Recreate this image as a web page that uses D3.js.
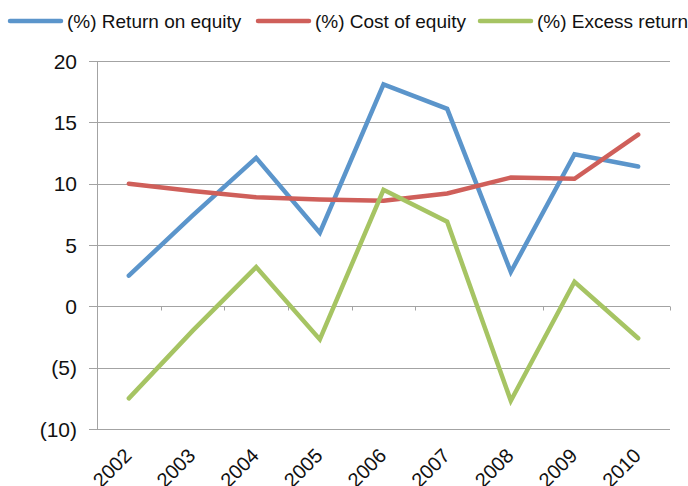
<!DOCTYPE html>
<html>
<head>
<meta charset="utf-8">
<script src="https://cdn.jsdelivr.net/npm/d3@7"></script>
<style>
  body { margin: 0; background: #fff; }
  text { font-family: "Liberation Sans", Arial, sans-serif; fill: #111; }
</style>
</head>
<body>
<div id="chart"></div>
<script>
// data
const years = ["2002", "2003", "2004", "2005", "2006", "2007", "2008", "2009", "2010"];
const returnOnEquity = [2.5, 7.4, 12.1, 6.0, 18.1, 16.1, 2.8, 12.4, 11.4];
const costOfEquity = [10.0, 9.4, 8.9, 8.7, 8.6, 9.2, 10.5, 10.4, 14.0];
const excessReturn = [-7.5, -2.0, 3.2, -2.7, 9.5, 6.9, -7.7, 2.0, -2.6];
const yTicks = [20, 15, 10, 5, 0, -5, -10];

const series = [
    {name: "(%) Return on equity", values: returnOnEquity, color: "#5b95cb"},
    {name: "(%) Cost of equity", values: costOfEquity, color: "#cf5f5a"},
    {name: "(%) Excess return", values: excessReturn, color: "#a6c463"}
];

const width = 688, height = 486;
const margin = {t: 61, l: 97, r: 18, b: 57};

const svg = d3.select("#chart").append("svg")
    .attr("width", width)
    .attr("height", height);

const x = d3.scaleBand()
    .domain(years)
    .range([margin.l, width - margin.r]);

const y = d3.scaleLinear()
    .domain([-10, 20])
    .range([height - margin.b, margin.t]);

const fmt = (v) => v < 0 ? `(${Math.abs(v)})` : `${v}`;

// gridlines
svg.append("g")
    .selectAll("line")
    .data(yTicks)
    .join("line")
    .attr("x1", margin.l - 8)
    .attr("x2", width - margin.r)
    .attr("y1", (d) => Math.round(y(d)) + 0.5)
    .attr("y2", (d) => Math.round(y(d)) + 0.5)
    .attr("stroke", "#a3a3a3")
    .attr("stroke-width", 1);

// vertical axis line
svg.append("line")
    .attr("x1", margin.l + 0.5)
    .attr("x2", margin.l + 0.5)
    .attr("y1", y(20))
    .attr("y2", y(-10))
    .attr("stroke", "#a3a3a3");

// category axis at zero, ticks between categories
const y0 = Math.round(y(0)) + 0.5;
svg.append("g")
    .selectAll("line")
    .data(years)
    .join("line")
    .attr("x1", (d) => Math.round(x(d) + x.step()) + 0.5)
    .attr("x2", (d) => Math.round(x(d) + x.step()) + 0.5)
    .attr("y1", y0)
    .attr("y2", y0 + 4)
    .attr("stroke", "#a3a3a3");

// y labels
svg.append("g")
    .selectAll("text")
    .data(yTicks)
    .join("text")
    .attr("x", 77)
    .attr("y", (d) => y(d))
    .attr("dy", "0.36em")
    .attr("text-anchor", "end")
    .style("font-size", "21px")
    .text(fmt);

// x labels
svg.append("g")
    .selectAll("text")
    .data(years)
    .join("text")
    .attr("transform", (d) =>
        `translate(${x(d) + x.bandwidth() / 2 + 4},${height - margin.b + 28}) rotate(-45)`)
    .attr("text-anchor", "end")
    .style("font-size", "20px")
    .text((d) => d);

// lines
const line = d3.line()
    .x((d, i) => x(years[i]) + x.bandwidth() / 2)
    .y((d) => y(d));

svg.append("g")
    .selectAll("path")
    .data(series)
    .join("path")
    .attr("d", (d) => line(d.values))
    .attr("fill", "none")
    .attr("stroke", (d) => d.color)
    .attr("stroke-width", 4.5)
    .attr("stroke-linejoin", "miter")
    .attr("stroke-linecap", "round");

// legend
const legendX = [8, 256, 478];
const legend = svg.append("g")
    .selectAll("g")
    .data(series)
    .join("g")
    .attr("transform", (d, i) => `translate(${legendX[i]},21)`);

legend.append("line")
    .attr("x1", 2)
    .attr("x2", 53)
    .attr("stroke", (d) => d.color)
    .attr("stroke-width", 4.5)
    .attr("stroke-linecap", "round");

legend.append("text")
    .attr("x", 59)
    .attr("dy", "0.36em")
    .style("font-size", "19px")
    .text((d) => d.name);
</script>
</body>
</html>
